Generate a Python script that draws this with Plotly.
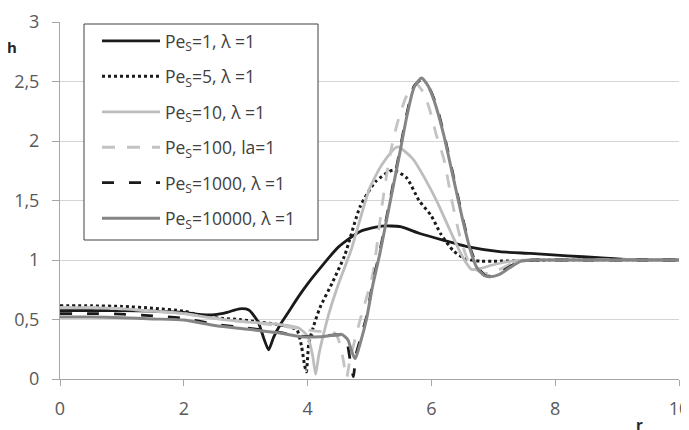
import plotly.graph_objects as go

# ---- data ----
r_pe1 = [0, 0.5, 1, 1.5, 2, 2.3, 2.5, 2.7, 2.9, 3.05, 3.2, 3.3, 3.37, 3.45, 3.55, 3.7, 3.85, 4.0, 4.2, 4.5,
         4.85, 5.2, 5.5, 5.8, 6.2, 6.6, 7.1, 7.6, 8.2, 8.7, 9.2, 10]
h_pe1 = [0.575, 0.575, 0.575, 0.57, 0.56, 0.54, 0.54, 0.56, 0.59, 0.58, 0.48, 0.33, 0.245, 0.35, 0.45, 0.57, 0.69,
         0.8, 0.93, 1.11, 1.24, 1.285, 1.28, 1.225, 1.165, 1.11, 1.07, 1.055, 1.035, 1.02, 1.005, 1.0]

r_pe5 = [0, 0.5, 1, 1.5, 2, 2.3, 2.6, 2.9, 3.2, 3.5, 3.7, 3.83, 3.9, 3.95, 3.98, 4.02, 4.1, 4.2, 4.4, 4.6,
         4.85, 5.1, 5.38, 5.6, 5.8, 6.0, 6.15, 6.35, 6.55, 6.8, 7.0, 7.5, 8, 9, 10]
h_pe5 = [0.615, 0.615, 0.61, 0.595, 0.57, 0.53, 0.51, 0.5, 0.48, 0.46, 0.44, 0.41, 0.28, 0.12, 0.06, 0.3, 0.45,
         0.6, 0.81, 1.04, 1.45, 1.66, 1.755, 1.69, 1.5, 1.37, 1.22, 1.08, 1.01, 0.99, 0.99, 0.995, 1, 1, 1]

r_pe10 = [0, 0.5, 1, 1.5, 2, 2.5, 3, 3.3, 3.6, 3.85, 4.0, 4.08, 4.13, 4.18, 4.25, 4.35, 4.5, 4.7, 5.0, 5.2,
          5.45, 5.7, 5.9, 6.1, 6.3, 6.5, 6.65, 6.8, 7.0, 7.3, 7.6, 8, 9, 10]
h_pe10 = [0.6, 0.6, 0.59, 0.57, 0.55, 0.51, 0.48, 0.47, 0.455, 0.43, 0.36, 0.2, 0.04, 0.2, 0.36, 0.56, 0.8, 1.08,
          1.6, 1.8, 1.95, 1.85, 1.68, 1.48, 1.25, 1.03, 0.92, 0.93, 0.96, 0.99, 1.0, 1.0, 1.0, 1.0]

r_pe100 = [0, 0.5, 1, 1.5, 2, 2.5, 3, 3.5, 3.9, 4.2, 4.35, 4.45, 4.52, 4.58, 4.63, 4.68, 4.75, 4.85, 4.95, 5.06,
           5.2, 5.33, 5.45, 5.6, 5.75, 5.88, 5.98, 6.08, 6.2, 6.33, 6.46, 6.59, 6.72, 6.85, 6.95, 7.1, 7.3, 7.6,
           8, 9, 10]
h_pe100 = [0.6, 0.6, 0.59, 0.57, 0.55, 0.51, 0.48, 0.45, 0.42, 0.4, 0.41, 0.38, 0.3, 0.15, 0.01, 0.15, 0.3, 0.5,
           0.68, 0.9, 1.45, 1.88, 2.15, 2.38, 2.48, 2.4, 2.25, 2.05, 1.85, 1.5, 1.2, 1.0, 0.92, 0.89, 0.89, 0.92,
           0.97, 1.0, 1.0, 1.0, 1.0]

r_pe1000 = [0, 0.5, 1, 1.5, 2, 2.5, 3, 3.5, 3.9, 4.2, 4.45, 4.55, 4.63, 4.69, 4.74, 4.78, 4.85, 4.95, 5.05, 5.17,
            5.33, 5.49, 5.6, 5.72, 5.85, 5.97, 6.08, 6.22, 6.37, 6.52, 6.64, 6.76, 6.87, 6.97, 7.1, 7.25, 7.45,
            7.7, 8, 9, 10]
h_pe1000 = [0.55, 0.55, 0.545, 0.53, 0.51, 0.46, 0.43, 0.395, 0.36, 0.36, 0.37, 0.37, 0.32, 0.15, 0.02, 0.2, 0.33,
            0.52, 0.8, 1.08, 1.5, 1.92, 2.22, 2.46, 2.52, 2.44, 2.3, 2.02, 1.67, 1.32, 1.08, 0.93, 0.87, 0.865,
            0.89, 0.94, 0.99, 1.0, 1.0, 1.0, 1.0]

r_pe10000 = [0, 0.5, 1, 1.5, 2, 2.5, 3, 3.5, 3.9, 4.2, 4.45, 4.55, 4.65, 4.72, 4.77, 4.85, 4.95, 5.05, 5.17, 5.33,
             5.49, 5.6, 5.72, 5.84, 5.95, 6.05, 6.2, 6.35, 6.5, 6.62, 6.73, 6.85, 6.95, 7.1, 7.25, 7.45, 7.7, 8,
             9, 10]
h_pe10000 = [0.52, 0.52, 0.515, 0.505, 0.495, 0.45, 0.42, 0.39, 0.355, 0.355, 0.37, 0.375, 0.33, 0.22, 0.17, 0.3,
             0.5, 0.78, 1.06, 1.48, 1.9, 2.2, 2.45, 2.53, 2.46, 2.33, 2.05, 1.7, 1.35, 1.1, 0.94, 0.87, 0.86, 0.88,
             0.93, 0.99, 1.0, 1.0, 1.0, 1.0]

series_names = ["Pe<sub>S</sub>=1, λ =1", "Pe<sub>S</sub>=5, λ =1", "Pe<sub>S</sub>=10, λ =1",
                "Pe<sub>S</sub>=100, la=1", "Pe<sub>S</sub>=1000, λ =1", "Pe<sub>S</sub>=10000, λ =1"]
x_ticks = [0, 2, 4, 6, 8, 10]
y_ticks = [0, 0.5, 1, 1.5, 2, 2.5, 3]
y_tick_labels = ["0", "0,5", "1", "1,5", "2", "2,5", "3"]

# ---- styles ----
FONT = "Open Sans"
styles = [
    dict(color="#1a1a1a", width=2.8, dash="solid"),
    dict(color="#1a1a1a", width=3, dash="dot"),
    dict(color="#bdbdbd", width=2.8, dash="solid"),
    dict(color="#c3c3c3", width=2.8, dash="13px,12px"),
    dict(color="#1a1a1a", width=2.8, dash="12px,15px"),
    dict(color="#858585", width=3, dash="solid"),
]
data = [(r_pe1, h_pe1), (r_pe5, h_pe5), (r_pe10, h_pe10), (r_pe100, h_pe100),
        (r_pe1000, h_pe1000), (r_pe10000, h_pe10000)]

fig = go.Figure()
for i, ((rx, hy), nm, st) in enumerate(zip(data, series_names, styles)):
    fig.add_trace(go.Scatter(x=rx, y=hy, mode="lines", name=nm, legendgroup=str(i),
                             line=dict(color=st["color"], width=st["width"], dash=st["dash"],
                                       shape="spline", smoothing=0.6)))

# page has an 8px body margin; the figure is sized so that the plot area lands on
# screen x 60..679 px, y 22..379 px
OFF = 8
PL, PW, PB, PH = 60, 619, 379, 357
box = dict(x0=(84 - PL) / PW, x1=(318 - PL) / PW, y0=(PB - 240) / PH, y1=(PB - 24) / PH)

fig.update_layout(
    width=689 - OFF, height=430 - OFF,
    margin=dict(l=PL - OFF, r=10, t=22 - OFF, b=51, autoexpand=False),
    paper_bgcolor="white", plot_bgcolor="white",
    font=dict(family=FONT, size=17, color="#595959"),
    showlegend=True,
    legend=dict(x=(97 - PL) / PW, y=(PB - 23) / PH, xanchor="left", yanchor="top",
                borderwidth=0, bgcolor="rgba(0,0,0,0)", maxheight=380,
                font=dict(family=FONT, size=17.5, color="#404040"),
                tracegroupgap=9.7, itemwidth=58),
    shapes=[dict(type="rect", xref="paper", yref="paper", layer="above",
                 line=dict(color="#404040", width=1), fillcolor="white", **box)],
    xaxis=dict(range=[0, 10], tickvals=x_ticks, ticktext=[str(v) for v in x_ticks],
               showline=True, linecolor="#a6a6a6", linewidth=1, ticks="outside", ticklen=6,
               tickcolor="#a6a6a6", showgrid=False, zeroline=False, ticklabelstandoff=7,
               ticklabeloverflow="allow",
               automargin=False, tickfont=dict(family=FONT, size=18, color="#595959")),
    yaxis=dict(range=[0, 3], tickvals=y_ticks, ticktext=y_tick_labels,
               showline=True, linecolor="#a6a6a6", linewidth=1, ticks="outside", ticklen=7,
               tickcolor="#a6a6a6", showgrid=True, gridcolor="#d4d4d4", gridwidth=1, zeroline=False,
               ticklabelstandoff=9, automargin=False, ticklabeloverflow="allow",
               tickfont=dict(family=FONT, size=18, color="#595959")),
    annotations=[
        dict(text="<b>h</b>", xref="paper", yref="paper", x=(12 - PL) / PW, y=(PB - 47) / PH,
             showarrow=False, xanchor="center", yanchor="middle",
             font=dict(family=FONT, size=15, color="#262626")),
        dict(text="<b>r</b>", xref="paper", yref="paper", x=(639 - PL) / PW, y=(PB - 424) / PH,
             showarrow=False, xanchor="center", yanchor="middle",
             font=dict(family=FONT, size=15, color="#262626")),
    ],
)

fig.write_html("out.html")
